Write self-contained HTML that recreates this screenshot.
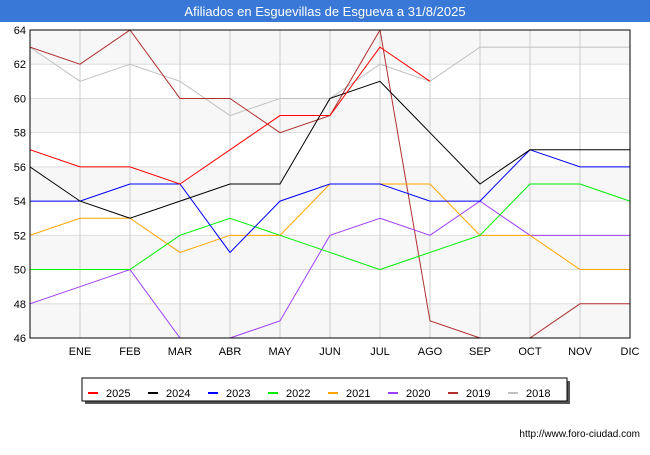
<!DOCTYPE html>
<html><head><meta charset="utf-8"><style>
body{margin:0;width:650px;height:450px;background:#fff;font-family:"Liberation Sans",sans-serif;overflow:hidden}
</style></head><body>
<svg width="650" height="450" xmlns="http://www.w3.org/2000/svg">
<rect x="0" y="0" width="650" height="22" fill="#3a78d8"/>
<text x="325" y="16" text-anchor="middle" fill="#fff" font-size="13">Afiliados en Esguevillas de Esgueva a 31/8/2025</text>
<g id="plot"></g>
<text x="640" y="437" text-anchor="end" font-size="10" fill="#000">http://www.foro-ciudad.com</text>
</svg>
<script>
const months=["ENE","FEB","MAR","ABR","MAY","JUN","JUL","AGO","SEP","OCT","NOV","DIC"];
const yTicks=[46,48,50,52,54,56,58,60,62,64];
const seriesNames=["2025","2024","2023","2022","2021","2020","2019","2018"];
const seriesColors=["#ff0000","#000000","#0000ff","#00ee00","#ffa500","#a040ff","#b03030","#c0c0c0"];
const s2025=[57,56,56,55,57,59,59,63,61];
const s2024=[56,54,53,54,55,55,60,61,58,55,57,57,57];
const s2023=[54,54,55,55,51,54,55,55,54,54,57,56,56];
const s2022=[50,50,50,52,53,52,51,50,51,52,55,55,54];
const s2021=[52,53,53,51,52,52,55,55,55,52,52,50,50];
const s2020=[48,49,50,46,46,47,52,53,52,54,52,52,52];
const s2019=[63,62,64,60,60,58,59,64,47,46,46,48,48];
const s2018=[63,61,62,61,59,60,60,62,61,63,63,63,63];
const allSeries=[s2025,s2024,s2023,s2022,s2021,s2020,s2019,s2018];
const NS="http://www.w3.org/2000/svg";
const X0=30,X1=630,Y0=338,Y1=30,ymin=46,ymax=64;
const xs=i=>X0+i*(X1-X0)/12;
const ys=v=>Y0-(v-ymin)*(Y0-Y1)/(ymax-ymin);
const g=document.getElementById('plot');
function mk(t,a){const e=document.createElementNS(NS,t);for(const k in a)e.setAttribute(k,a[k]);g.appendChild(e);return e;}
for(let i=0;i<yTicks.length-1;i++){if(i%2==0){const r=mk('rect',{x:X0,y:ys(yTicks[i+1]),width:X1-X0,height:ys(yTicks[i])-ys(yTicks[i+1]),fill:'#f7f7f7'});

}}
yTicks.forEach(v=>{const l=mk('line',{x1:X0,x2:X1,y1:ys(v),y2:ys(v),stroke:'#ddd'});


const t=mk('text',{x:X0-4,y:ys(v)+4,'text-anchor':'end','font-size':'11'});t.textContent=v;

});
months.forEach((m,i)=>{const x=xs(i+1);const l=mk('line',{x1:x,x2:x,y1:Y1,y2:Y0,stroke:'#ccc'});


const t=mk('text',{x:x,y:Y0+17,'text-anchor':'middle','font-size':'11'});t.textContent=m;

});
const cp=mk('clipPath',{id:'cp'});const cr=document.createElementNS(NS,'rect');cr.setAttribute('x',X0);cr.setAttribute('y',Y1);cr.setAttribute('width',X1-X0);cr.setAttribute('height',Y0-Y1);cp.appendChild(cr);
for(let s=allSeries.length-1;s>=0;s--){const d=allSeries[s];
const p=mk('polyline',{points:d.map((v,i)=>xs(i)+','+ys(v)).join(' '),fill:'none',stroke:seriesColors[s],'stroke-width':1,'clip-path':'url(#cp)'});

}
const fr=mk('rect',{x:X0,y:Y1,width:X1-X0,height:Y0-Y1,fill:'none',stroke:'#000'});


const sh=mk('rect',{x:85,y:381,width:485,height:23,fill:'#555'});


const lb=mk('rect',{x:82,y:378,width:485,height:23,fill:'#fff',stroke:'#000'});


seriesNames.forEach((n,i)=>{const x=88+i*60;
const l=mk('line',{x1:x,x2:x+10,y1:393,y2:393,stroke:seriesColors[i],'stroke-width':2});


const t=mk('text',{x:x+18,y:397,'font-size':'11'});t.textContent=n;

});
</script>
</body></html>
